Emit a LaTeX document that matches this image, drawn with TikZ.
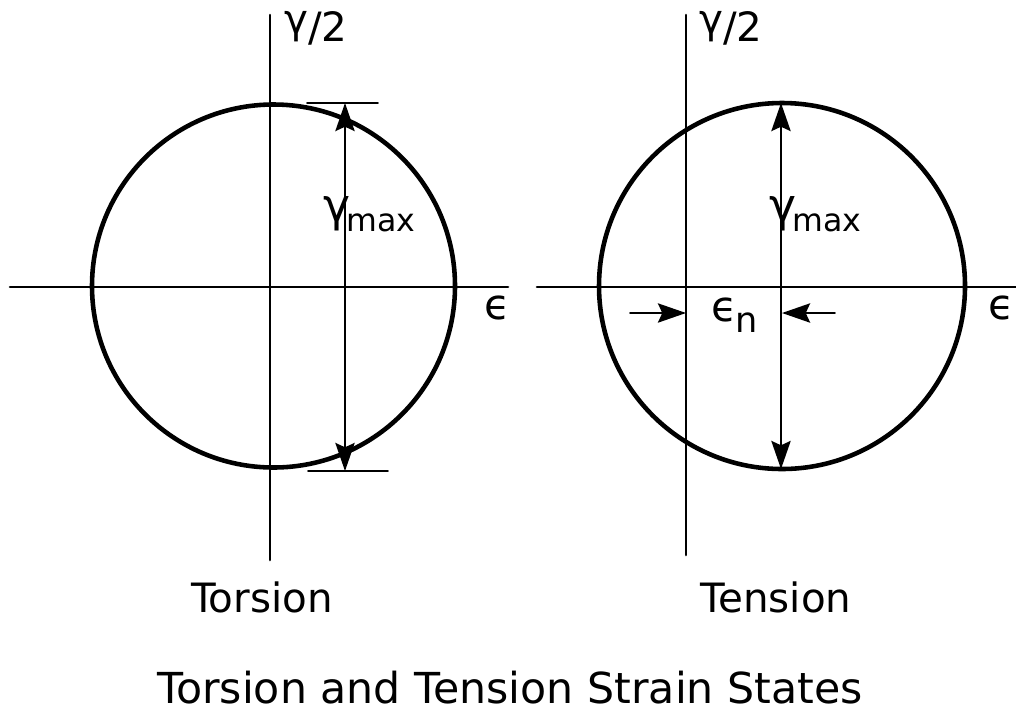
\documentclass[tikz,border=0pt]{standalone}
\usepackage{fontspec}
\setmainfont{DejaVu Sans}
\usetikzlibrary{arrows.meta}
\newcommand{\gup}{\raisebox{0.2em}{γ}}

\begin{document}
\begin{tikzpicture}[x=0.02cm,y=-0.02cm,>={Stealth[length=16pt,width=11pt,inset=2.5pt]},line cap=round,
  axis/.style={line width=1.5pt},
  mohr/.style={line width=2.6pt},
  dim/.style={line width=1pt},
  lbl/.style={font=\fontsize{23}{26}\selectfont,inner sep=0pt},
  eps/.style={font=\fontsize{24}{26}\selectfont,inner sep=0pt}]
\useasboundingbox (0,0) rectangle (1016,727);
% torsion
\draw[axis] (10,287) -- (508,287);
\draw[axis] (270,15) -- (270,560);
\draw[mohr] (273.5,286) circle[radius=181.5];
\coordinate (ttop) at (345,103);
\coordinate (tbot) at (345,471);
\draw[dim] (307,103) -- (378,103);
\draw[dim] (308,471) -- (388,471);
\draw[dim,<->] (ttop) -- (tbot);
\node[lbl] (gl) at (316,28) {\gup/2};
\node[eps] (el) at (497,308) {ϵ};
\node[lbl,anchor=base west] (gml) at (323,231) {{\fontsize{26}{26}\selectfont\gup}\hspace{-0.1em}{\fontsize{18}{20}\selectfont max}};
\node[lbl,anchor=base] (tor) at (262,612) {Torsion};
% tension
\draw[axis] (537,287) -- (1016,287);
\draw[axis] (686,15) -- (686,555);
\draw[mohr] (782,286) circle[radius=183];
\coordinate (ntop) at (781,103);
\coordinate (nbot) at (781,469);
\draw[dim,<->] (ntop) -- (nbot);
\coordinate (al) at (630,313);
\coordinate (ar) at (686,313);
\coordinate (bl) at (782,313);
\coordinate (br) at (835,313);
\draw[dim,->] (al) -- (ar);
\draw[dim,->] (br) -- (bl);
\node[lbl] (gr) at (731,28) {\gup/2};
\node[eps] (er) at (1001,308) {ϵ};
\node[eps] (en) at (735,315) {ϵ\hspace{-0.05em}\raisebox{-0.25em}{\fontsize{20}{22}\selectfont n}};
\node[lbl,anchor=base west] (gmr) at (769,231) {{\fontsize{26}{26}\selectfont\gup}\hspace{-0.1em}{\fontsize{18}{20}\selectfont max}};
\node[lbl,anchor=base] (ten) at (776,612) {Tension};
% title
\node[lbl,anchor=base,font=\fontsize{24.3}{26}\selectfont] (ttl) at (510,703) {Torsion and Tension Strain States};
\end{tikzpicture}
\end{document}
